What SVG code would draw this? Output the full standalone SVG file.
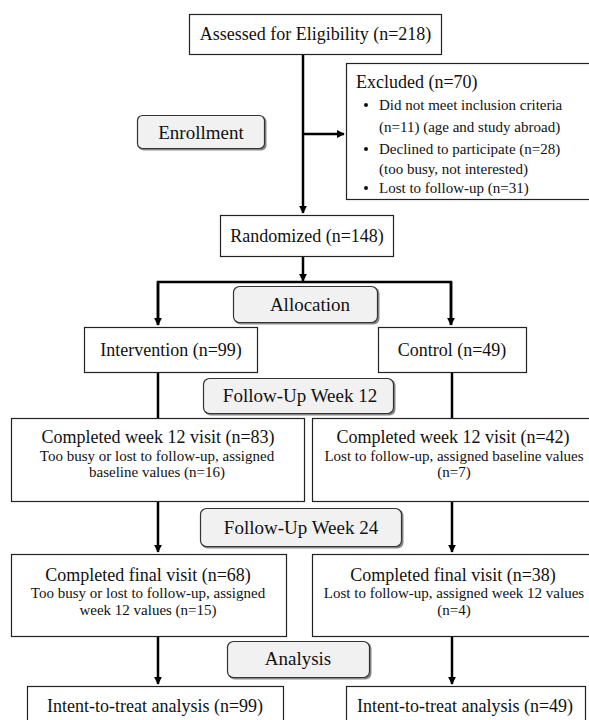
<svg xmlns="http://www.w3.org/2000/svg" width="589" height="720" viewBox="0 0 589 720">
<defs>
<marker id="ah" viewBox="0 0 10 10" refX="9" refY="5" markerWidth="3.2" markerHeight="3.2" orient="auto" markerUnits="strokeWidth"><path d="M0,0 L10,5 L0,10 z" fill="#000"/></marker>
</defs>
<style>
.box{fill:#fff;stroke:#222;stroke-width:1.2}
.phase{fill:#f1f1f1;stroke:#333;stroke-width:1.2}
.shadow{fill:#888}
text{font-family:"Liberation Serif","Times New Roman",serif;fill:#111}
.t18{font-size:18px}
.t15{font-size:15px}
.ph{font-size:19px}
.c{text-anchor:middle}
.ln{stroke:#000;stroke-width:2.5;fill:none}
</style>
<rect width="589" height="720" fill="#fff"/>
<g id="connectors">
<line class="ln" x1="303" y1="54" x2="303" y2="213" marker-end="url(#ah)"/>
<line class="ln" x1="303" y1="134" x2="344" y2="134" marker-end="url(#ah)"/>
<line class="ln" x1="303" y1="256" x2="303" y2="281" marker-end="url(#ah)"/>
<polyline class="ln" points="158,325 158,282 451,282 451,325" style="marker-end:none"/>
<line class="ln" x1="158" y1="282" x2="158" y2="325" marker-end="url(#ah)"/>
<line class="ln" x1="451" y1="282" x2="451" y2="325" marker-end="url(#ah)"/>
<line class="ln" x1="158" y1="372" x2="158" y2="418"/>
<line class="ln" x1="452" y1="372" x2="452" y2="418"/>
<line class="ln" x1="158" y1="502" x2="158" y2="552" marker-end="url(#ah)"/>
<line class="ln" x1="452" y1="502" x2="452" y2="552" marker-end="url(#ah)"/>
<line class="ln" x1="158" y1="636" x2="158" y2="684" marker-end="url(#ah)"/>
<line class="ln" x1="452" y1="636" x2="452" y2="684" marker-end="url(#ah)"/>
</g>
<g id="assessed">
<rect class="box" x="189.5" y="14.5" width="252" height="40"/>
<text class="t18 c" x="315.5" y="40">Assessed for Eligibility (n=218)</text>
</g>
<g id="excluded">
<rect class="box" x="346.5" y="63.5" width="250" height="136"/>
<text class="t18" x="356" y="88">Excluded (n=70)</text>
<circle cx="366" cy="105" r="2" fill="#111"/>
<text class="t15" x="379" y="110">Did not meet inclusion criteria</text>
<text class="t15" x="379" y="132">(n=11) (age and study abroad)</text>
<circle cx="366" cy="149" r="2" fill="#111"/>
<text class="t15" x="379" y="154">Declined to participate (n=28)</text>
<text class="t15" x="379" y="174">(too busy, not interested)</text>
<circle cx="366" cy="188" r="2" fill="#111"/>
<text class="t15" x="379" y="193">Lost to follow-up (n=31)</text>
</g>
<g id="enrollment">
<rect class="shadow" x="138.5" y="116.5" width="128" height="34" rx="5"/>
<rect class="phase" x="137.5" y="115.5" width="127" height="33" rx="5"/>
<text class="ph c" x="201" y="139">Enrollment</text>
</g>
<g id="randomized">
<rect class="box" x="220.5" y="215.5" width="173" height="41"/>
<text class="t18 c" x="307" y="242">Randomized (n=148)</text>
</g>
<g id="allocation">
<rect class="shadow" x="234.5" y="287.5" width="145" height="37" rx="6"/>
<rect class="phase" x="233.5" y="286.5" width="144" height="36" rx="6"/>
<text class="ph c" x="310" y="311">Allocation</text>
</g>
<g id="intervention">
<rect class="box" x="84.5" y="327.5" width="173" height="45"/>
<text class="t18 c" x="171" y="356">Intervention (n=99)</text>
</g>
<g id="control">
<rect class="box" x="378.5" y="327.5" width="148" height="45"/>
<text class="t18 c" x="452" y="356">Control (n=49)</text>
</g>
<g id="fu12">
<rect class="shadow" x="204.5" y="379.5" width="191" height="36" rx="6"/>
<rect class="phase" x="203.5" y="378.5" width="190" height="35" rx="6"/>
<text class="ph c" x="300" y="402">Follow-Up Week 12</text>
</g>
<g id="int12">
<rect class="box" x="11.5" y="418.5" width="293" height="83"/>
<text class="t18 c" x="158" y="443">Completed week 12 visit (n=83)</text>
<text class="t15 c" x="157" y="461">Too busy or lost to follow-up, assigned</text>
<text class="t15 c" x="157" y="477">baseline values (n=16)</text>
</g>
<g id="ctl12">
<rect class="box" x="312.5" y="418.5" width="284" height="83"/>
<text class="t18 c" x="453" y="443">Completed week 12 visit (n=42)</text>
<text class="t15 c" x="454" y="461">Lost to follow-up, assigned baseline values</text>
<text class="t15 c" x="454" y="477">(n=7)</text>
</g>
<g id="fu24">
<rect class="shadow" x="201.5" y="509.5" width="202" height="39" rx="6"/>
<rect class="phase" x="200.5" y="508.5" width="201" height="38" rx="6"/>
<text class="ph c" x="301" y="534">Follow-Up Week 24</text>
</g>
<g id="intfinal">
<rect class="box" x="11.5" y="554.5" width="275" height="82"/>
<text class="t18 c" x="148" y="581">Completed final visit (n=68)</text>
<text class="t15 c" x="148" y="598">Too busy or lost to follow-up, assigned</text>
<text class="t15 c" x="148" y="615">week 12 values (n=15)</text>
</g>
<g id="ctlfinal">
<rect class="box" x="312.5" y="554.5" width="284" height="82"/>
<text class="t18 c" x="453" y="581">Completed final visit (n=38)</text>
<text class="t15 c" x="454" y="598">Lost to follow-up, assigned week 12 values</text>
<text class="t15 c" x="454" y="615">(n=4)</text>
</g>
<g id="analysis">
<rect class="shadow" x="228.5" y="642.5" width="143" height="37" rx="6"/>
<rect class="phase" x="227.5" y="641.5" width="142" height="36" rx="6"/>
<text class="ph c" x="298" y="665">Analysis</text>
</g>
<g id="itt1">
<rect class="box" x="27.5" y="686.5" width="256" height="45"/>
<text class="t18 c" x="155" y="712">Intent-to-treat analysis (n=99)</text>
</g>
<g id="itt2">
<rect class="box" x="346.5" y="686.5" width="239" height="45"/>
<text class="t18 c" x="465" y="712">Intent-to-treat analysis (n=49)</text>
</g>
</svg>
